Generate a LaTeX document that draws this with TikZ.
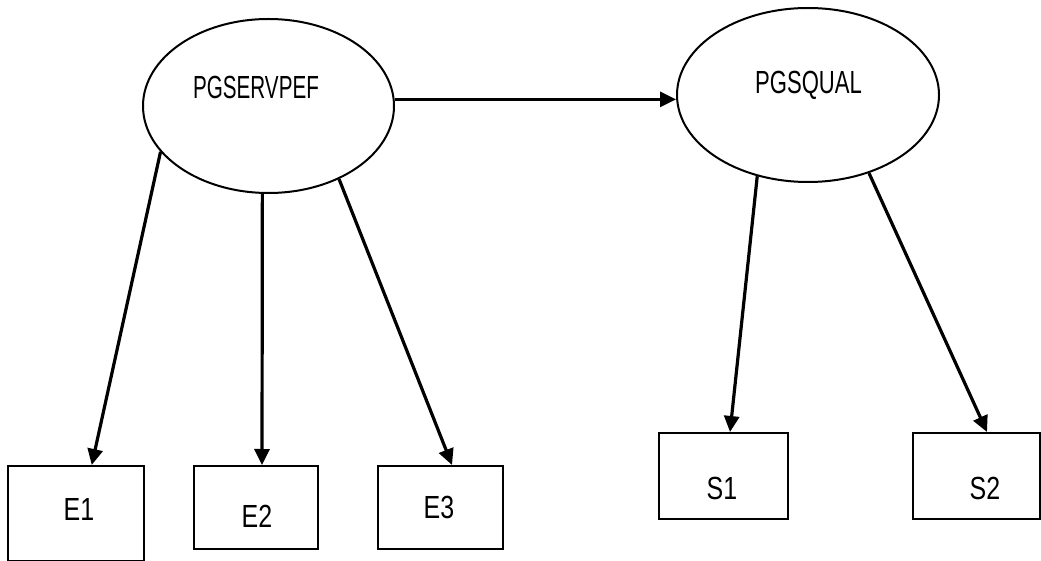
\documentclass[tikz,border=0pt]{standalone}
\usepackage{graphicx}
\usepackage{fontspec}
\setmainfont{Liberation Sans}
\usetikzlibrary{shapes.geometric,arrows.meta,calc}
\newcommand{\nar}[2][0.78]{\scalebox{#1}[1]{#2}}
\begin{document}
\begin{tikzpicture}[x=1pt,y=-1pt,
  latent/.style={draw,line width=2pt,ellipse,inner sep=0pt},
  obsbox/.style={draw,line width=2pt,rectangle,inner sep=0pt},
  lbl/.style={inner sep=0pt,font=\fontsize{32}{34}\selectfont},
  conn/.style={line width=3.2pt,-{Triangle[length=16pt,width=15pt]}}]
\useasboundingbox (0,0) rectangle (1041,561);
\fill[white] (0,0) rectangle (1041,561);
% latent variables
\node[latent,minimum width=251pt,minimum height=174pt] (pg) at (268.5,106) {};
\node[lbl] (pgt) at (256,87) {\nar[0.645]{PGSERVPEF}};
\node[latent,minimum width=262pt,minimum height=174pt] (pq) at (808,95) {};
\node[lbl] (pqt) at (808.5,85) {\nar[0.69]{PGSQUAL}};
% observed boxes
\node[obsbox,minimum width=136.5pt,minimum height=95pt] (e1) at (75.75,513.5) {};
\node[lbl] (e1t) at (79,509) {\nar{E1}};
\node[obsbox,minimum width=124pt,minimum height=83pt] (e2) at (256,507.5) {};
\node[lbl] (e2t) at (257,516) {\nar{E2}};
\node[obsbox,minimum width=125pt,minimum height=83pt] (e3) at (440.5,507.5) {};
\node[lbl] (e3t) at (439,507) {\nar{E3}};
\node[obsbox,minimum width=129pt,minimum height=86pt] (s1) at (723.5,476) {};
\node[lbl] (s1t) at (722,488) {\nar{S1}};
\node[obsbox,minimum width=127pt,minimum height=86pt] (s2) at (976.5,476) {};
\node[lbl] (s2t) at (985,488) {\nar{S2}};
% arrow targets
\coordinate (te1) at ([xshift=16pt]e1.north);
\coordinate (te2) at ([xshift=6pt]e2.north);
\coordinate (te3) at ([xshift=11.5pt]e3.north);
\coordinate (ts1) at ([xshift=6.5pt]s1.north);
\coordinate (ts2) at ([xshift=10.5pt]s2.north);
% connectors
\draw[conn] (pg.3) -- (pg.3 -| pq.west);
\draw[conn] (pg.203.5) -- (te1);
\draw[conn] (pg.266) -- (te2);
\draw[conn] (pg.314.6) -- (te3);
\draw[conn] (pq.238) -- (ts1);
\draw[conn] (pq.308) -- (ts2);
\end{tikzpicture}
\end{document}
